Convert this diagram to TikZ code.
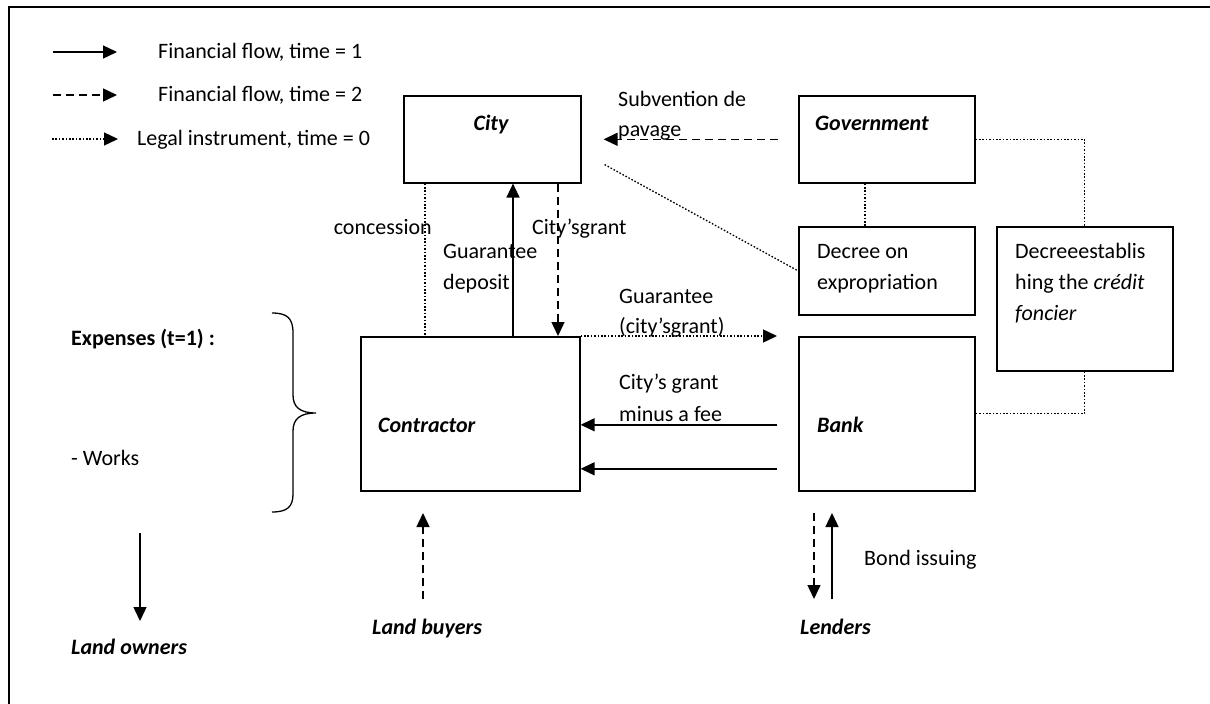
\documentclass[tikz,border=0pt]{standalone}
\usepackage{fontspec}
\setmainfont{Carlito}
\usetikzlibrary{arrows.meta,calc}
\newcommand\diagfont{\fontsize{22}{31}\selectfont}
\begin{document}
\begin{tikzpicture}[x=1pt,y=-1pt,
  every node/.style={font=\diagfont},
  box/.style={draw, line width=1.6pt, inner sep=0pt, anchor=north west},
  txt/.style={inner sep=0pt, anchor=base west},
  actor/.style={txt, font=\diagfont\bfseries\itshape},
  tip/.style={-{Triangle[length=14pt,width=13pt]}},
  flowone/.style={tip, line width=1.4pt},
  flowtwo/.style={tip, line width=1.4pt, dash pattern=on 8pt off 5pt},
  legal/.style={line width=1.3pt, dash pattern=on 1.6pt off 1.8pt},
  legalarrow/.style={legal, tip}]

\useasboundingbox (0,0) rectangle (1210,704);
% outer frame: top and left edges only
\draw[line width=1.8pt] (9,704) -- (9,7) -- (1210,7);

% legend
\coordinate (lega) at (53,52);  \coordinate (legb) at (117,52);
\coordinate (legc) at (53,95);  \coordinate (legd) at (117,95);
\coordinate (lege) at (52,139); \coordinate (legf) at (118,139);
\draw[flowone] (lega) -- (legb);
\draw[flowtwo] (legc) -- (legd);
\draw[legalarrow] (lege) -- (legf);
\node[txt] (leg1) at (158,58) {Financial flow, time = 1};
\node[txt] (leg2) at (158,101) {Financial flow, time = 2};
\node[txt] (leg3) at (137,145) {Legal instrument, time = 0};

% boxes
\node[box, minimum width=177pt, minimum height=87pt] (city) at (403,95) {};
\node[box, minimum width=176pt, minimum height=87pt] (gov) at (798,95) {};
\node[box, minimum width=176pt, minimum height=88pt] (dexp) at (798,226) {};
\node[box, minimum width=176pt, minimum height=144pt] (dest) at (996,226) {};
\node[box, minimum width=219pt, minimum height=154pt] (contr) at (360,336) {};
\node[box, minimum width=176pt, minimum height=154pt] (bank) at (798,336) {};

% box texts
\node[actor, anchor=base] (cityt) at (491,130) {City};
\node[actor] (govt) at (815,130) {Government};
\node[txt] (dexpa) at (817,258) {Decree on};
\node[txt] (dexpb) at (817,289) {expropriation};
\node[txt] (desta) at (1015,258) {Decreeestablis};
\node[txt] (destb) at (1015,289) {hing the \textit{crédit}};
\node[txt] (destc) at (1015,320) {\textit{foncier}};
\node[actor] (contrt) at (378,432) {Contractor};
\node[actor] (bankt) at (817,432) {Bank};

% City -- Contractor
\coordinate (xconc) at (425,0);
\coordinate (xdep) at (513,0);
\coordinate (xgrant) at (558,0);
\draw[legal] (city.south -| xconc) -- (contr.north -| xconc);
\draw[flowone] (contr.north -| xdep) -- (city.south -| xdep);
\draw[flowtwo] (city.south -| xgrant) -- (contr.north -| xgrant);
\node[txt, anchor=base east] (lconc) at (432,234) {concession};
\node[txt] (ldep1) at (443,258) {Guarantee};
\node[txt] (ldep2) at (443,289) {deposit};
\node[txt] (lgrant) at (532,234) {City’sgrant};

% Government -- City
\coordinate (subs) at ($(gov.west)+(-20,0)$);
\coordinate (sube) at ($(city.east)+(22,0)$);
\draw[flowtwo] (subs) -- (sube);
\node[txt] (lsub1) at (618,106) {Subvention de};
\node[txt] (lsub2) at (618,136) {pavage};

% legal links
\coordinate (diag) at ($(city.south east)+(23,-19)$);
\draw[legal] (diag) -- (dexp.west);
\coordinate (xgov) at (865,0);
\draw[legal] (gov.south -| xgov) -- (dexp.north -| xgov);
\draw[legal] (gov.east) -| (dest.north);
\draw[legal] (dest.south) |- (bank.east);

% Contractor -- Bank
\coordinate (guae) at ($(bank.north west)+(-21,0)$);
\draw[legalarrow] (contr.north east) -- (guae);
\node[txt] (lgua1) at (619,303) {Guarantee};
\node[txt] (lgua2) at (619,333) {(city’sgrant)};
\coordinate (fee) at ($(bank.west)+(-21,11)$);
\coordinate (loan) at ($(bank.west)+(-21,55)$);
\draw[flowone] (fee) -- (contr.east |- fee);
\draw[flowone] (loan) -- (contr.east |- loan);
\node[txt] (lfee1) at (619,389) {City’s grant};
\node[txt] (lfee2) at (619,421) {minus a fee};

% expenses
\node[txt, font=\diagfont\bfseries] (exp) at (71,345) {Expenses (t=1) :};
\node[txt] (works) at (71,465) {- Works};
\draw[line width=1.3pt] (272,313) .. controls (287,313) and (293,318) .. (293,333)
  -- (293,395) .. controls (293,407) and (300,413) .. (316,413)
  .. controls (300,413) and (293,419) .. (293,431)
  -- (293,494) .. controls (293,507) and (287,512) .. (272,512);

% bottom actors
\node[actor] (owners) at (71,654) {Land owners};
\node[actor] (buyers) at (372,634) {Land buyers};
\node[actor] (lenders) at (800,634) {Lenders};
\node[txt] (bond) at (864,565) {Bond issuing};
\coordinate (owa) at (140,533); \coordinate (owb) at (140,621);
\draw[flowone] (owa) -- (owb);
\coordinate (bua) at (423,599); \coordinate (bub) at (423,513);
\draw[flowtwo] (bua) -- (bub);
\coordinate (lea) at (814,513); \coordinate (leb) at (814,599);
\draw[flowtwo] (lea) -- (leb);
\coordinate (lec) at (832,599); \coordinate (led) at (832,513);
\draw[flowone] (lec) -- (led);
\end{tikzpicture}
\end{document}
